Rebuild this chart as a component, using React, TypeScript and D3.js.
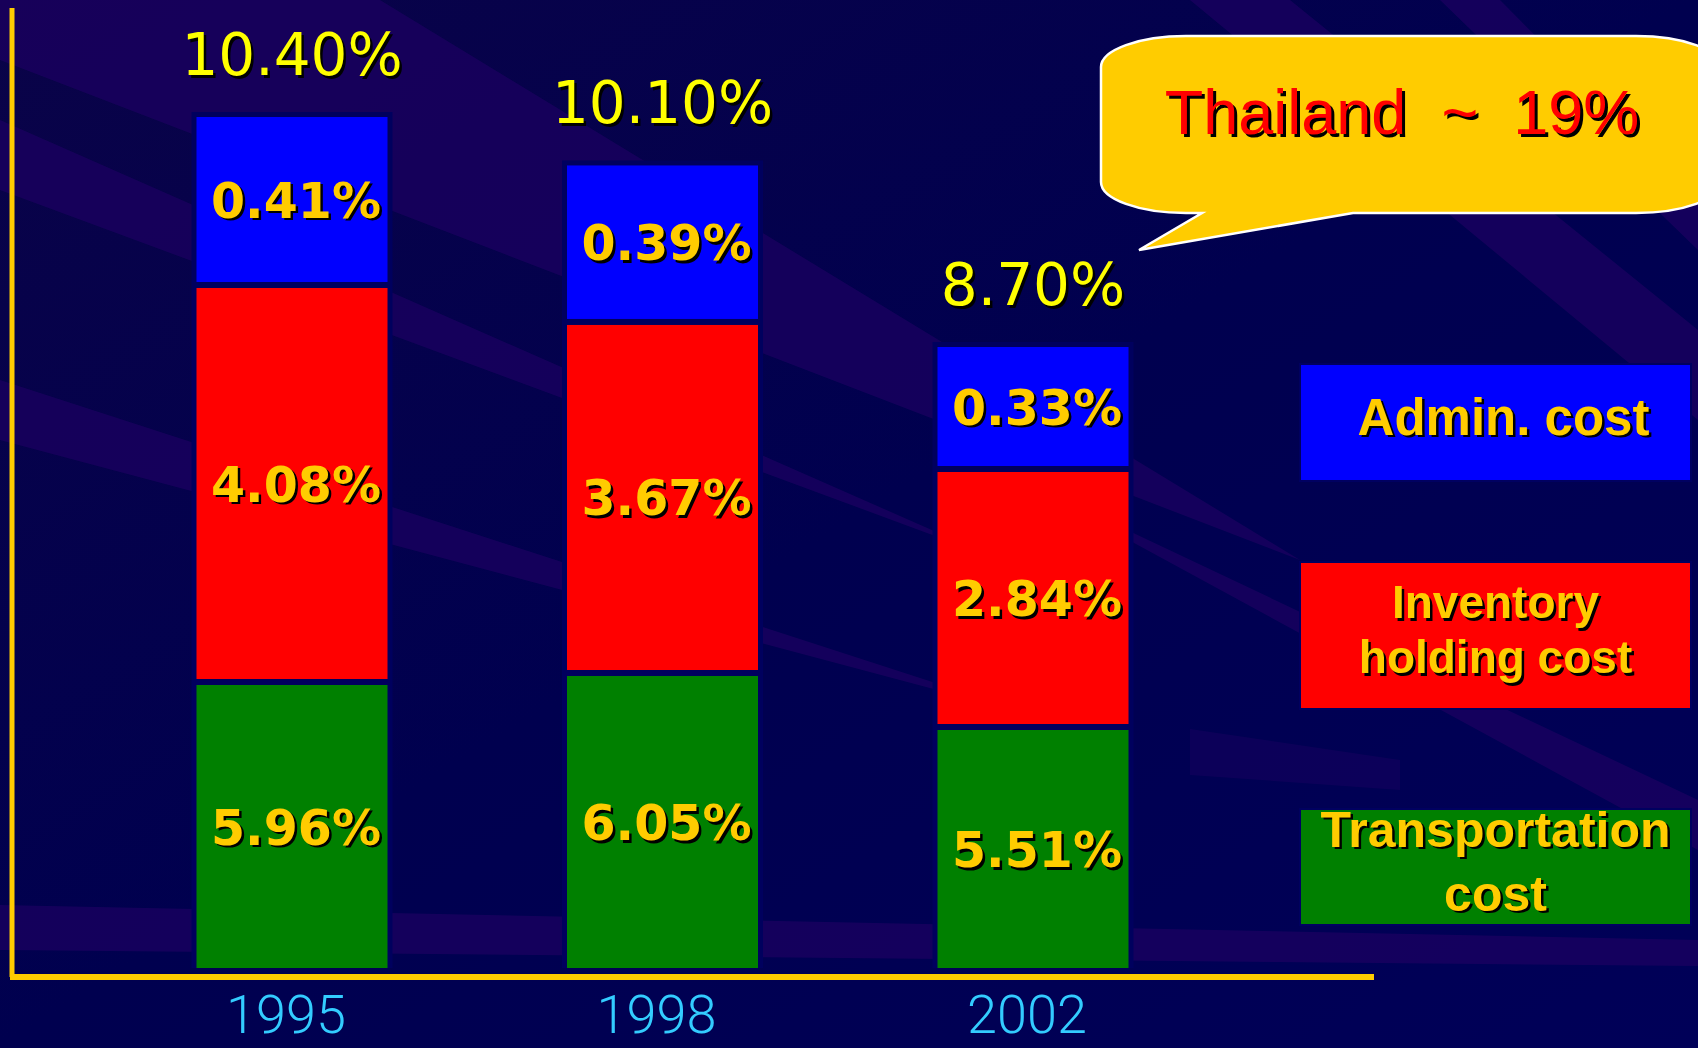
import React from 'react';
import * as d3 from 'd3';

const years = ['1995', '1998', '2002'];
const totals = [10.4, 10.1, 8.7];
const transport = [5.96, 6.05, 5.51];
const inventory = [4.08, 3.67, 2.84];
const admin = [0.41, 0.39, 0.33];
const seriesNames = ['Admin. cost', 'Inventory holding cost', 'Transportation cost'];
const callout = 'Thailand  ~  19%';

const W = 1698;
const H = 1048;
const BASE = 968;
const GAP = 6;
const BAR_W = 191;

const COL = { admin: '#0000ff', inventory: '#ff0000', transport: '#008000' };

export default function App() {
  const x = d3.scalePoint<string>().domain(years).range([292, 1033]);
  const hAdmin = d3.scaleLinear().domain(d3.extent(admin) as [number, number]).range([119, 165]);
  const hInv = d3.scaleLinear().domain(d3.extent(inventory) as [number, number]).range([252, 391]);
  const hTr = d3.scaleLinear().domain(d3.extent(transport) as [number, number]).range([238, 292]);
  const fmt = (v: number) => d3.format('.2f')(v) + '%';

  const bars = years.map((yr, i) => {
    const gH = hTr(transport[i]);
    const rH = hInv(inventory[i]);
    const bH = hAdmin(admin[i]);
    const gTop = BASE - gH;
    const rBot = gTop - GAP;
    const rTop = rBot - rH;
    const bBot = rTop - GAP;
    const bTop = bBot - bH;
    return {
      yr,
      cx: x(yr) as number,
      segs: [
        { y0: gTop, y1: BASE, fill: COL.transport, label: fmt(transport[i]) },
        { y0: rTop, y1: rBot, fill: COL.inventory, label: fmt(inventory[i]) },
        { y0: bTop, y1: bBot, fill: COL.admin, label: fmt(admin[i]) },
      ],
      top: bTop,
      total: fmt(totals[i]),
    };
  });

  const shadowText = (
    key: string,
    tx: number,
    ty: number,
    txt: string,
    fill: string,
    style: React.CSSProperties,
    off = 2.5
  ) => (
    <g key={key}>
      <text x={tx + off} y={ty + off} textAnchor="middle" fill="#000" style={style}>{txt}</text>
      <text x={tx} y={ty} textAnchor="middle" fill={fill} style={style}>{txt}</text>
    </g>
  );

  const barLabelStyle: React.CSSProperties = { fontFamily: 'DejaVu Sans', fontWeight: 700, fontSize: 49 };
  const totalStyle: React.CSSProperties = { fontFamily: 'DejaVu Sans', fontWeight: 400, fontSize: 58 };
  const yearStyle: React.CSSProperties = { fontFamily: 'Roboto', fontWeight: 300, fontSize: 54 };
  const legStyle = (fs: number): React.CSSProperties => ({ fontFamily: 'Liberation Sans', fontWeight: 700, fontSize: fs });

  // callout geometry
  const cx0 = 1101, cx1 = 1721, cy0 = 36, cy1 = 213, rx = 85, ry = 31;
  const calloutPath = `M${cx0 + rx},${cy0} H${cx1 - rx} A${rx},${ry} 0 0 1 ${cx1},${cy0 + ry} V${cy1 - ry} A${rx},${ry} 0 0 1 ${cx1 - rx},${cy1} H1353 L1139,250 L1202,${cy1} H${cx0 + rx} A${rx},${ry} 0 0 1 ${cx0},${cy1 - ry} V${cy0 + ry} A${rx},${ry} 0 0 1 ${cx0 + rx},${cy0} Z`;

  const legend = [
    { name: seriesNames[0], fill: COL.admin, y0: 365, y1: 480, lines: ['Admin. cost'], fs: 51, lh: 0 },
    { name: seriesNames[1], fill: COL.inventory, y0: 563, y1: 708, lines: ['Inventory', 'holding cost'], fs: 46, lh: 55 },
    { name: seriesNames[2], fill: COL.transport, y0: 810, y1: 924, lines: ['Transportation', 'cost'], fs: 50, lh: 64 },
  ];
  const legX0 = 1301, legX1 = 1690;

  const streak = '#1e0062';

  return (
    <svg width={W} height={H} style={{ position: 'fixed', left: 0, top: 0, display: 'block' }}>
      <defs>
        <linearGradient id="bg" x1="0" y1="0" x2="1" y2="1">
          <stop offset="0" stopColor="#0a0348" />
          <stop offset="0.5" stopColor="#00004f" />
          <stop offset="1" stopColor="#000058" />
        </linearGradient>
      </defs>
      <rect width={W} height={H} fill="url(#bg)" />
      <g fill={streak} opacity={0.7}>
        <polygon points="0,0 380,0 1300,560 0,60" />
        <polygon points="0,120 0,190 1000,560" />
        <polygon points="0,380 0,440 1050,720" />
        <polygon points="1190,0 1290,0 1698,330 1698,420" />
        <polygon points="1440,0 1500,0 1698,200 1698,250" />
        <polygon points="1000,470 1698,800 1698,850" />
        <polygon points="1190,729 1400,760 1400,790 1190,775" opacity={0.6} />
        <polygon points="0,905 1698,940 1698,966 0,950" />
      </g>

      {/* axes */}
      <line x1={12} y1={8} x2={12} y2={977} stroke="#ffcc00" strokeWidth={5} />
      <line x1={10} y1={977} x2={1374} y2={977} stroke="#ffcc00" strokeWidth={6} />

      {bars.map((b) => (
        <g key={b.yr}>
          <rect x={b.cx - BAR_W / 2 - 5} y={b.top - 5} width={BAR_W + 10} height={BASE - b.top + 5} fill="#00005e" />
          {b.segs.map((s, j) => (
            <rect key={j} x={b.cx - BAR_W / 2} y={s.y0} width={BAR_W} height={s.y1 - s.y0} fill={s.fill} />
          ))}
          {b.segs.map((s, j) =>
            shadowText(`l${j}`, b.cx + 4, (s.y0 + s.y1) / 2 + 18, s.label, '#ffcc00', barLabelStyle, 2.5)
          )}
          {shadowText('t', b.cx, b.top - 42, b.total, '#ffff00', totalStyle, 2.5)}
          <text x={b.cx - 6} y={1033} textAnchor="middle" fill="#33ccff" style={yearStyle}>{b.yr}</text>
        </g>
      ))}

      {/* callout */}
      <path d={calloutPath} fill="#ffcc00" stroke="#ffffff" strokeWidth={2.5} />
      <g>
        <text x={1405} y={137} textAnchor="middle" fill="#000" style={{ fontFamily: 'Liberation Sans', fontSize: 63, whiteSpace: 'pre' }}>{callout}</text>
        <text x={1402} y={134} textAnchor="middle" fill="#ff0000" style={{ fontFamily: 'Liberation Sans', fontSize: 63, whiteSpace: 'pre' }}>{callout}</text>
      </g>

      {/* legend */}
      {legend.map((l) => {
        const mid = (l.y0 + l.y1) / 2;
        const n = l.lines.length;
        const cap = l.fs * 0.716;
        return (
          <g key={l.name}>
            <rect x={legX0 - 2} y={l.y0 - 2} width={legX1 - legX0 + 4} height={l.y1 - l.y0 + 4} fill="#000060" />
            <rect x={legX0} y={l.y0} width={legX1 - legX0} height={l.y1 - l.y0} fill={l.fill} />
            {l.lines.map((t, k) =>
              shadowText(
                `${l.name}${k}`,
                (legX0 + legX1) / 2 + (n === 1 ? 8 : 0),
                mid + cap / 2 - 6 + (k - (n - 1) / 2) * l.lh,
                t,
                '#ffcc00',
                legStyle(l.fs),
                2.5
              )
            )}
          </g>
        );
      })}
    </svg>
  );
}
